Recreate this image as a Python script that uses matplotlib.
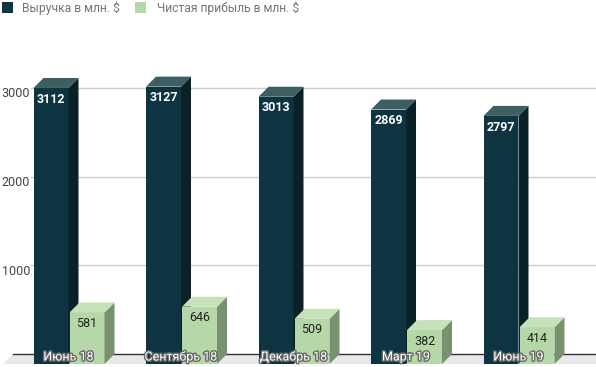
import matplotlib
matplotlib.use('Agg')
import matplotlib.pyplot as plt
import matplotlib.patheffects as pe
from matplotlib.patches import Polygon, Rectangle
import numpy as np

plt.rcParams['font.family'] = ['Roboto', 'DejaVu Sans']

categories = ['Июнь 18', 'Сентябрь 18', 'Декабрь 18', 'Март 19', 'Июнь 19']
revenue = [3112, 3127, 3013, 2869, 2797]
profit = [581, 646, 509, 382, 414]
y_ticks = [1000, 2000, 3000]
series_names = ['Выручка в млн. $', 'Чистая прибыль в млн. $']

# front / side / top colours for each series
dark = ('#0d3440', '#0a2128', '#3d5f63')
green = ('#b6d7a8', '#78916f', '#c7e1bb')

W, H = 596, 367
fig = plt.figure(figsize=(W / 100, H / 100), dpi=100)
ax = fig.add_axes([0, 3 / H, 1, 314 / H])
xl, xr = -0.609, 4.689
ax.set_xlim(xl, xr)
ax.set_ylim(0, 3540)
ax.axis('off')


def px_to_data(dx, dy):
    # convert a pixel offset to data units (for the fake depth)
    inv = ax.transData.inverted()
    x0, y0 = inv.transform((0, 0))
    x1, y1 = inv.transform((dx, dy))
    return x1 - x0, y1 - y0


ddx, ddy = px_to_data(10, 10)
px = px_to_data(1, 1)[0]

# floor and back baseline
ax.add_patch(Polygon([(xl + 3 * px, 0), (xr, 0), (xr, ddy), (xl + 3 * px + ddx, ddy)],
                     fc='#e8e8e8', ec='none', zorder=1))
ax.plot([xl + 3 * px + ddx, xr], [ddy, ddy], color='#333333', lw=1, zorder=2)

# gridlines on the back wall
for t in y_ticks:
    ax.plot([xl + 31 * px, xr], [t + ddy, t + ddy], color='#cccccc', lw=1, zorder=1)
    ax.text(xl + 30 * px, t + 0.4 * ddy, str(t), ha='right', va='center',
            fontsize=9, color='#444444')

w = 0.311
x = np.arange(len(categories))


def bar3d(left, val, cols, z):
    right = left + w
    ax.bar(left, val, width=w, align='edge', color=cols[0], lw=0, zorder=z)
    ax.add_patch(Polygon([(right, 0), (right + ddx, ddy), (right + ddx, val + ddy), (right, val)],
                         fc=cols[1], ec='none', zorder=z))
    ax.add_patch(Polygon([(left, val), (right, val), (right + ddx, val + ddy), (left + ddx, val + ddy)],
                         fc=cols[2], ec='none', zorder=z))


for i in range(len(categories)):
    bar3d(x[i] - w, revenue[i], dark, 3)
    bar3d(x[i] + 0.009, profit[i], green, 4)
    ax.annotate(str(revenue[i]), (x[i] - w / 2, revenue[i]), xytext=(0, -8),
                textcoords='offset points', ha='center', va='center',
                fontsize=9, fontweight='bold', color='white', zorder=5)
    ax.annotate(str(profit[i]), (x[i] + 0.009 + w / 2, profit[i]), xytext=(0, -8),
                textcoords='offset points', ha='center', va='center',
                fontsize=9, color='#222222', zorder=5)
    ax.text(x[i], 0.7 * ddy, categories[i], ha='center', va='center', fontsize=9,
            color='white', zorder=6,
            path_effects=[pe.withStroke(linewidth=2, foreground='#666666')])

# legend drawn by hand at the top left
for (sx, tx), col, name in zip([(2, 22), (135, 157)], [dark[0], green[0]], series_names):
    fig.patches.append(Rectangle((sx / W, 1 - 13 / H), 11 / W, 11 / H, fc=col, ec='none',
                                 transform=fig.transFigure, figure=fig))
    fig.text(tx / W, 1 - 8 / H, name, ha='left', va='center', fontsize=8.7, color='#757575')

fig.savefig('out.png', dpi=100)
